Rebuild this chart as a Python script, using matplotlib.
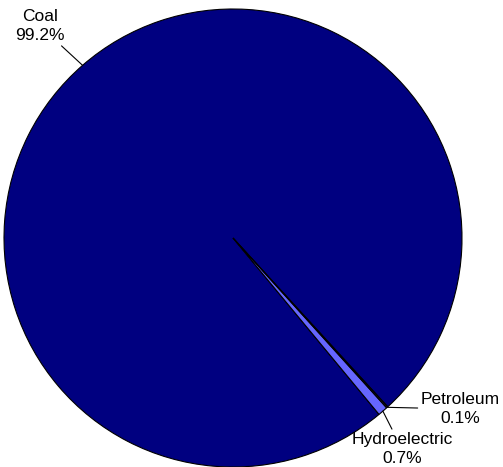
import numpy as np
import matplotlib.pyplot as plt

plt.rcParams['font.family'] = ['Liberation Sans', 'DejaVu Sans']

# data
labels = ['Coal', 'Hydroelectric', 'Petroleum']
shares = [99.2, 0.7, 0.1]
colors = ['#000080', '#6666ff', '#1a1a40']

# layout (pixel coordinates, y measured from top)
W, H = 503, 467
cx, cy, rad = 233, 238, 229
text_pos = {'Coal': (40, 26), 'Hydroelectric': (402, 449), 'Petroleum': (460, 409)}

fig = plt.figure(figsize=(W / 100, H / 100), dpi=100)
ax = fig.add_axes([0, 0, 1, 1])

wedges, _ = ax.pie(shares, colors=colors, startangle=-47.5, center=(cx, H - cy),
                   radius=rad, wedgeprops=dict(edgecolor='black', linewidth=0.8))
ax.set_xlim(0, W)
ax.set_ylim(0, H)
ax.set_aspect('equal')
ax.axis('off')

for w, lab, val in zip(wedges, labels, shares):
    mid = np.deg2rad((w.theta1 + w.theta2) / 2)
    xy = (cx + rad * np.cos(mid), H - cy + rad * np.sin(mid))
    tx, ty = text_pos[lab]
    ax.annotate(f'{lab}\n{val}%', xy=xy, xytext=(tx, H - ty), ha='center', va='center',
                fontsize=12.5, linespacing=1.35,
                arrowprops=dict(arrowstyle='-', color='black', lw=0.8, shrinkA=0, shrinkB=0))

fig.savefig('out.png', dpi=100)
